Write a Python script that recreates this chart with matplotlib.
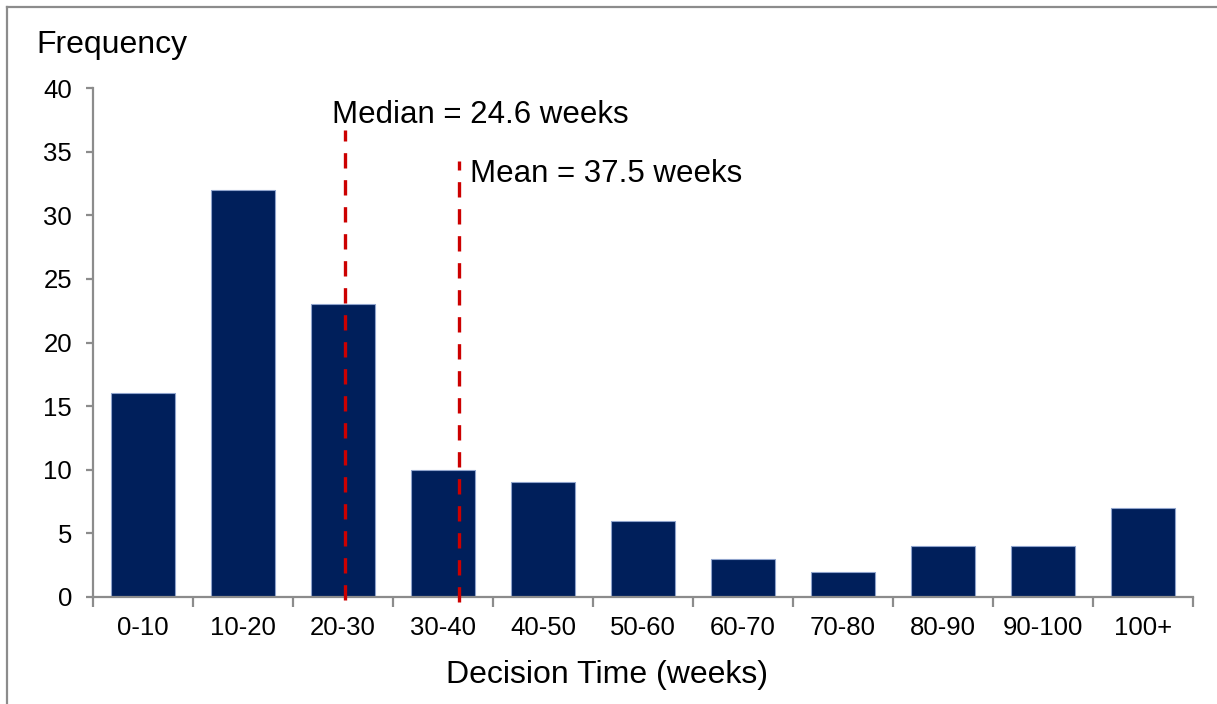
import matplotlib.pyplot as plt
import numpy as np
from matplotlib.lines import Line2D

plt.rcParams["font.family"] = ["Liberation Sans", "DejaVu Sans"]

categories = ["0-10", "10-20", "20-30", "30-40", "40-50", "50-60",
              "60-70", "70-80", "80-90", "90-100", "100+"]
frequency = [16, 32, 23, 10, 9, 6, 3, 2, 4, 4, 7]

# reference line positions in category units (bar centres at 0..10)
median_pos = 2.02
mean_pos = 3.16
median_label = "Median = 24.6 weeks"
mean_label = "Mean = 37.5 weeks"

BAR_COLOR = "#001F5B"
LINE_COLOR = "#CC0000"
AXIS_COLOR = "#8C8C8C"

fig = plt.figure(figsize=(12.17, 7.04), dpi=100)
ax = fig.add_axes([93 / 1217, 1 - 597 / 704, 1100 / 1217, 509 / 704])

x = np.arange(len(categories))

ax.bar(
    x,
    frequency,
    width=0.64,
    color=BAR_COLOR,
    edgecolor="#8FA3CC",
    linewidth=0.8,
    zorder=2
)

ax.set_xlim(-0.5, len(categories) - 0.5)
ax.set_ylim(0, 40)

# dashed median / mean markers
ax.plot([median_pos, median_pos], [-0.2, 36.7], color=LINE_COLOR,
        linewidth=2.4, dashes=(4.6, 3.5), clip_on=False, zorder=3)
ax.plot([mean_pos, mean_pos], [-0.4, 34.3], color=LINE_COLOR,
        linewidth=2.4, dashes=(4.6, 3.5), clip_on=False, zorder=3)

ax.text(median_pos - 0.13, 37.25, median_label, fontsize=22.5,
        ha="left", va="baseline", clip_on=False)
ax.text(mean_pos + 0.11, 32.6, mean_label, fontsize=22.5,
        ha="left", va="baseline", clip_on=False)

# axes styling
for side in ["top", "right"]:
    ax.spines[side].set_visible(False)
for side in ["left", "bottom"]:
    ax.spines[side].set_color(AXIS_COLOR)
    ax.spines[side].set_linewidth(1.6)

ax.set_yticks(np.arange(0, 41, 5))
ax.tick_params(axis="y", direction="out", length=5, width=1.6,
               color=AXIS_COLOR, labelsize=18.5, pad=10)

ax.set_xticks(np.arange(-0.5, len(categories), 1.0))
ax.set_xticklabels([])
ax.set_xticks(x, minor=True)
ax.set_xticklabels(categories, minor=True)
ax.tick_params(axis="x", which="major", direction="out", length=7,
               width=1.6, color=AXIS_COLOR)
ax.tick_params(axis="x", which="minor", length=0, labelsize=18.5, pad=14)

fig.text(36 / 1217, 1 - 53 / 704, "Frequency", fontsize=23,
         ha="left", va="baseline")
fig.text(607 / 1217, 1 - 683 / 704, "Decision Time (weeks)",
         fontsize=23, ha="center", va="baseline")

# partial frame around the figure
fig.add_artist(Line2D([7 / 1217, 7 / 1217], [0, 1 - 7 / 704],
                      transform=fig.transFigure, color=AXIS_COLOR,
                      linewidth=1.6))
fig.add_artist(Line2D([7 / 1217, 1], [1 - 7 / 704, 1 - 7 / 704],
                      transform=fig.transFigure, color=AXIS_COLOR,
                      linewidth=1.6))

fig.savefig("out.png", dpi=100, facecolor="white")
